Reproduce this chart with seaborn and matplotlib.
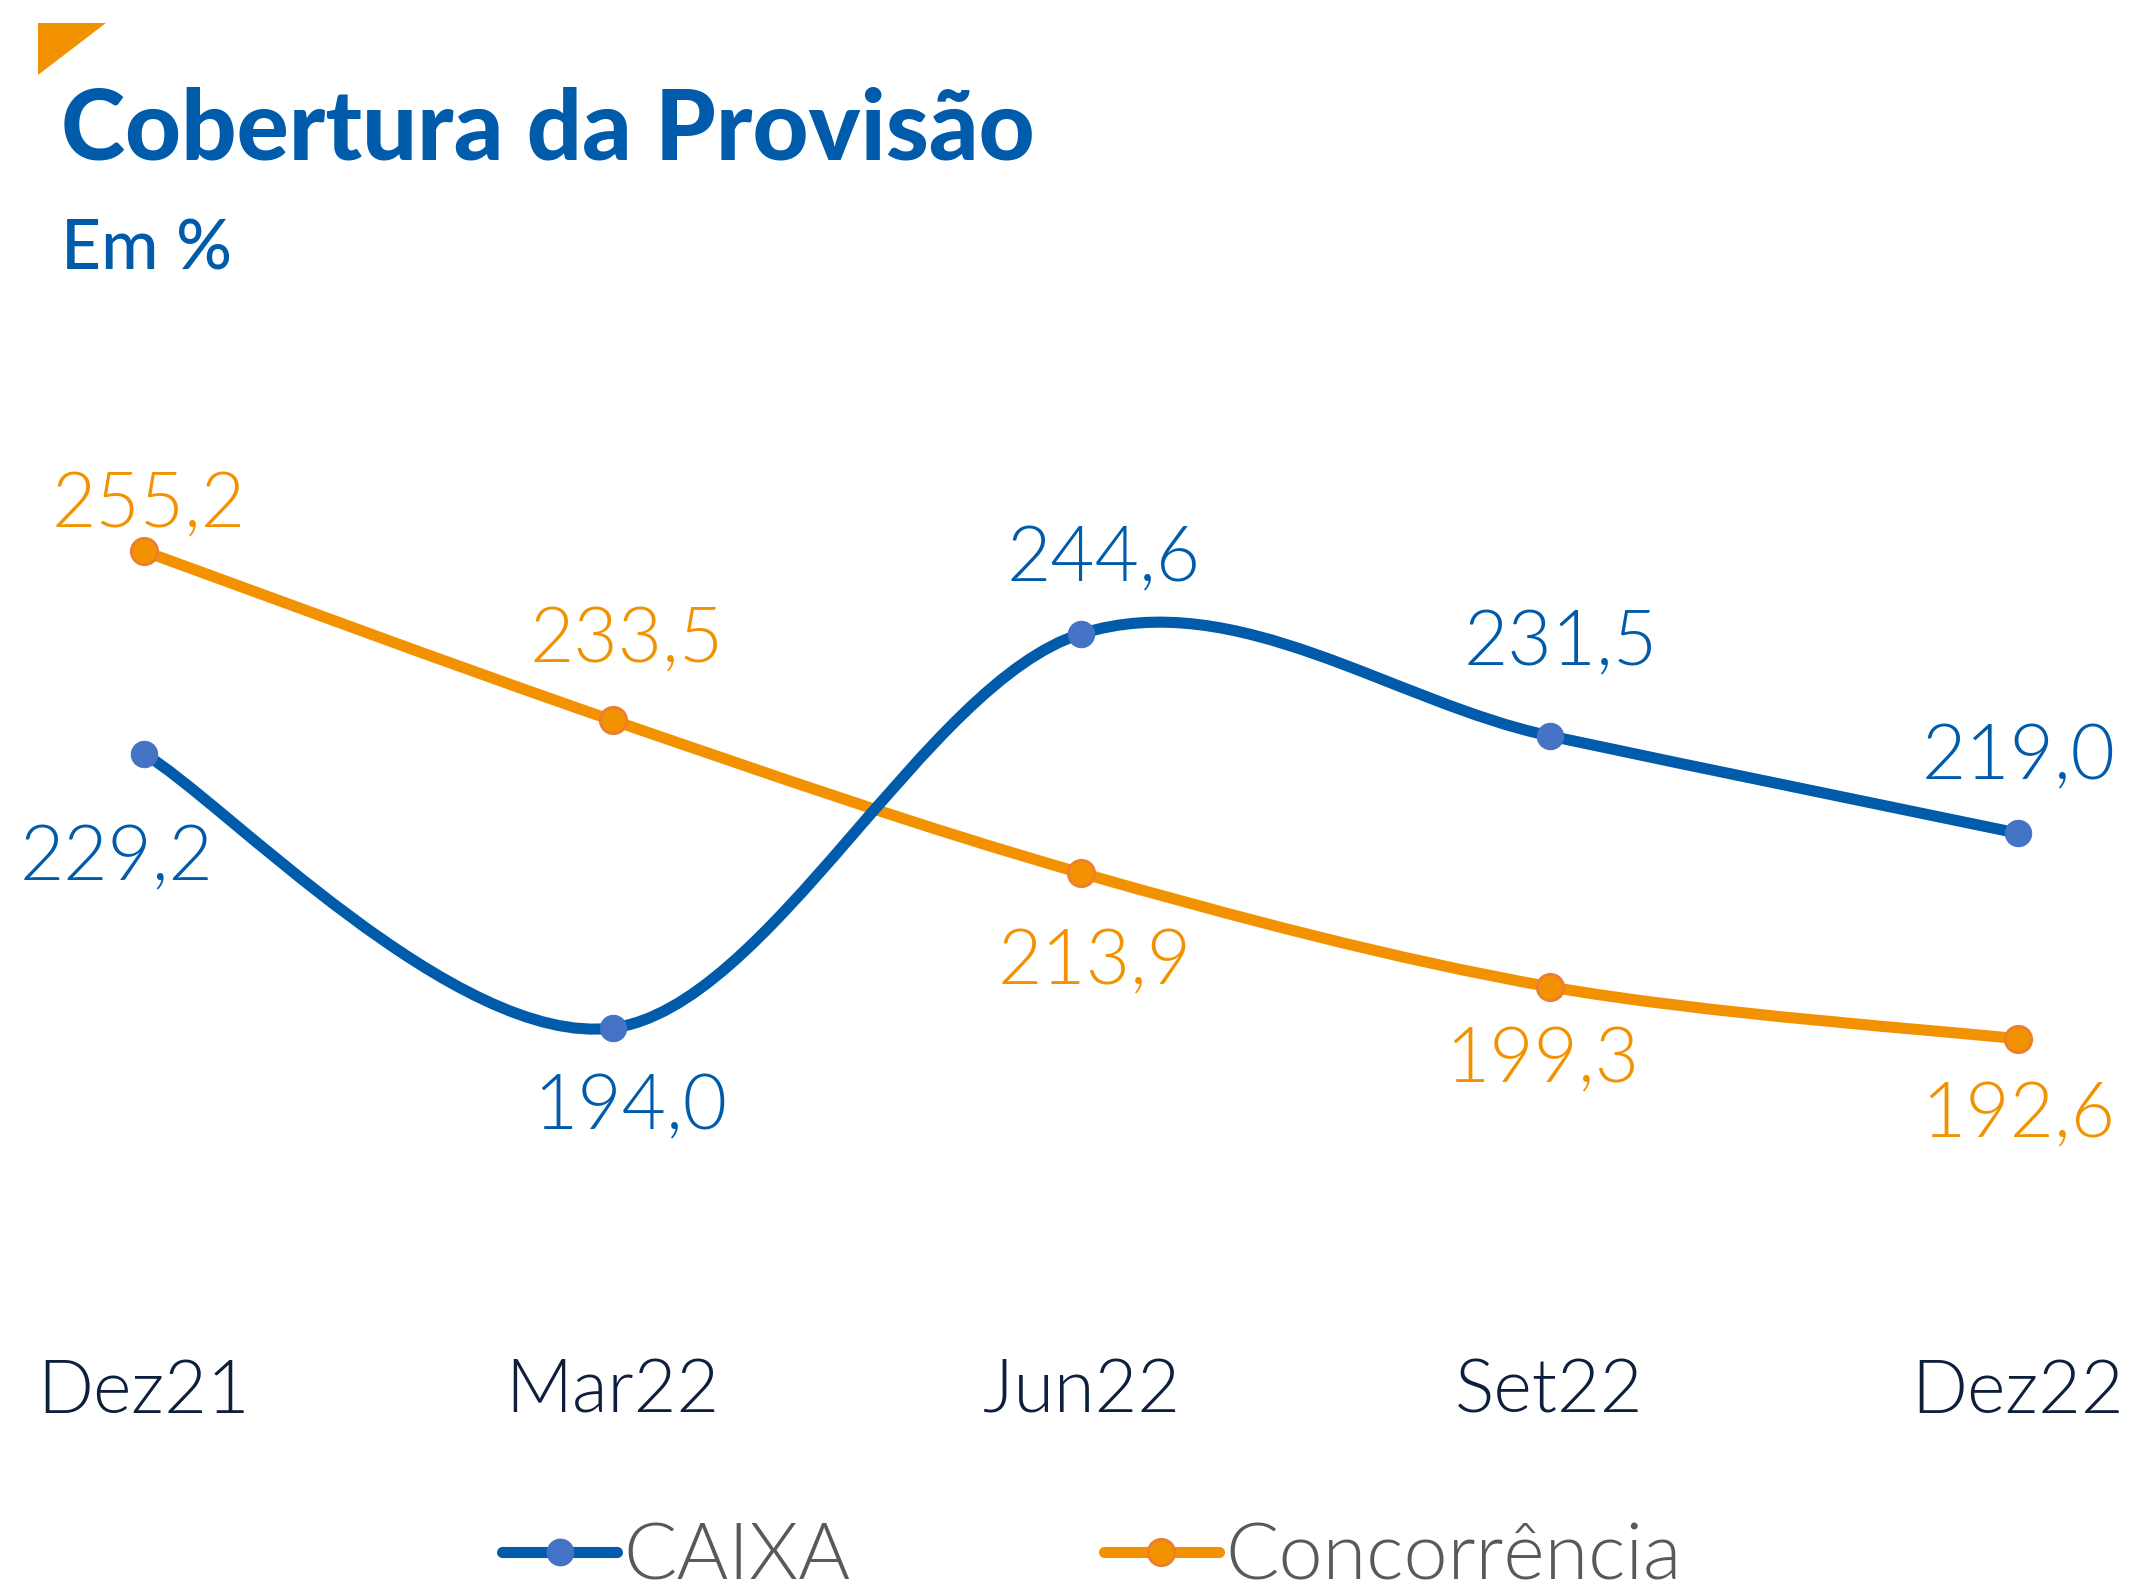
import numpy as np
import pandas as pd
import matplotlib
matplotlib.use("Agg")
import matplotlib.pyplot as plt
import seaborn as sns
from matplotlib.path import Path
from matplotlib.patches import PathPatch, Polygon
from matplotlib.lines import Line2D

# ---- data ----
categories = ["Dez21", "Mar22", "Jun22", "Set22", "Dez22"]
caixa = [229.2, 194.0, 244.6, 231.5, 219.0]
concorrencia = [255.2, 233.5, 213.9, 199.3, 192.6]
series_names = ["CAIXA", "Concorrência"]
caixa_labels = ["229,2", "194,0", "244,6", "231,5", "219,0"]
conc_labels = ["255,2", "233,5", "213,9", "199,3", "192,6"]

BLUE_LINE = "#005BAA"
BLUE_MARK = "#4472C4"
ORANGE = "#F39200"
ORANGE_EDGE = "#ED7D31"
TICK_COL = "#0D1F3C"
LEG_COL = "#595959"

sns.set_style("white")
plt.rcParams["font.family"] = ["Lato", "DejaVu Sans"]

W, H = 2132, 1596
fig = plt.figure(figsize=(W / 100, H / 100), dpi=100)

# axes placement in pixels
left_px, right_px = 50.3, 50.3 + 4.4 * 468.5
top_px, bot_px = 300, 1300
ax = fig.add_axes([left_px / W, 1 - bot_px / H, (right_px - left_px) / W, (bot_px - top_px) / H])

df = pd.DataFrame({
    "pos": list(range(len(categories))) * 2,
    "value": caixa + concorrencia,
    "serie": [series_names[0]] * 5 + [series_names[1]] * 5,
})

# smooth (Excel-like) lines as Bezier paths in data coordinates
def smooth_path(ys):
    xs = list(range(len(ys)))
    pts = list(zip(xs, ys))
    verts = [pts[0]]
    codes = [Path.MOVETO]
    n = len(pts)
    for i in range(n - 1):
        p0 = pts[i - 1] if i > 0 else pts[i]
        p1 = pts[i]
        p2 = pts[i + 1]
        p3 = pts[i + 2] if i + 2 < n else pts[i + 1]
        c1 = (p1[0] + (p2[0] - p0[0]) / 6, p1[1] + (p2[1] - p0[1]) / 6)
        c2 = (p2[0] - (p3[0] - p1[0]) / 6, p2[1] - (p3[1] - p1[1]) / 6)
        verts += [c1, c2, p2]
        codes += [Path.CURVE4] * 3
    return Path(verts, codes)

LW = 8.0
MS = 19
ax.add_patch(PathPatch(smooth_path(concorrencia), facecolor="none", edgecolor=ORANGE,
                       lw=LW, capstyle="round", joinstyle="round", zorder=2))
ax.add_patch(PathPatch(smooth_path(caixa), facecolor="none", edgecolor=BLUE_LINE,
                       lw=LW, capstyle="round", joinstyle="round", zorder=3))

sns.lineplot(data=df, x="pos", y="value", hue="serie", hue_order=series_names,
             palette={series_names[0]: BLUE_MARK, series_names[1]: ORANGE},
             marker="o", markersize=MS, linewidth=0, legend=False, ax=ax, zorder=4)
# marker edge colours
lines = ax.get_lines()
if len(lines) >= 2:
    lines[0].set_markeredgecolor(BLUE_MARK)
    lines[1].set_markeredgecolor(ORANGE_EDGE)
    lines[1].set_markeredgewidth(2)

TXT_W = 300
ax.set_xlim(-0.2, 4.2)
ax.set_ylim(159.08, 287.45)
ax.set_xticks(range(len(categories)))
ax.set_xticklabels(categories, fontsize=53, color=TICK_COL, fontweight=TXT_W)
ax.tick_params(axis="x", length=0, pad=42)
ax.set_yticks([])
ax.set_xlabel("")
ax.set_ylabel("")
for s in ax.spines.values():
    s.set_visible(False)

# data labels
caixa_off = [(-27, -106), (18, -80), (23, 73), (11, 91), (1, 75)]
conc_off = [(5, 45), (14, 79), (14, -90), (-7, -75), (0, -78)]
for i, (v, lab) in enumerate(zip(caixa, caixa_labels)):
    ax.annotate(lab, (i, v), xytext=caixa_off[i], textcoords="offset pixels",
                ha="center", va="center", fontsize=55, color=BLUE_LINE,
                fontweight=TXT_W, zorder=5)
for i, (v, lab) in enumerate(zip(concorrencia, conc_labels)):
    ax.annotate(lab, (i, v), xytext=conc_off[i], textcoords="offset pixels",
                ha="center", va="center", fontsize=55, color=ORANGE,
                fontweight=TXT_W, zorder=5)

# title & subtitle
fig.text(61 / W, 1 - 160 / H, "Cobertura da Provisão", fontsize=70, fontweight="black",
         color=BLUE_LINE, ha="left", va="baseline")
fig.text(61 / W, 1 - 269 / H, "Em %", fontsize=50, fontweight="medium",
         color=BLUE_LINE, ha="left", va="baseline")

# decorative orange triangle
tri = Polygon([[38 / W, 1 - 23 / H], [106 / W, 1 - 23 / H], [38 / W, 1 - 75 / H]],
              closed=True, transform=fig.transFigure, facecolor=ORANGE, edgecolor="none")
fig.add_artist(tri)

# legend
handles = [
    Line2D([], [], color=BLUE_LINE, lw=LW, marker="o", markersize=MS,
           markerfacecolor=BLUE_MARK, markeredgecolor=BLUE_MARK),
    Line2D([], [], color=ORANGE, lw=LW, marker="o", markersize=MS,
           markerfacecolor=ORANGE, markeredgecolor=ORANGE_EDGE, markeredgewidth=2),
]
leg = fig.legend(handles, series_names, loc="center", bbox_to_anchor=(1092 / W, 1 - 1558 / H),
                 ncol=2, frameon=False, handlelength=1.45, handletextpad=0.08,
                 columnspacing=3.2, borderpad=0.1, prop={"weight": TXT_W, "size": 57})
for t in leg.get_texts():
    t.set_color(LEG_COL)

fig.savefig("out.png", dpi=100)
